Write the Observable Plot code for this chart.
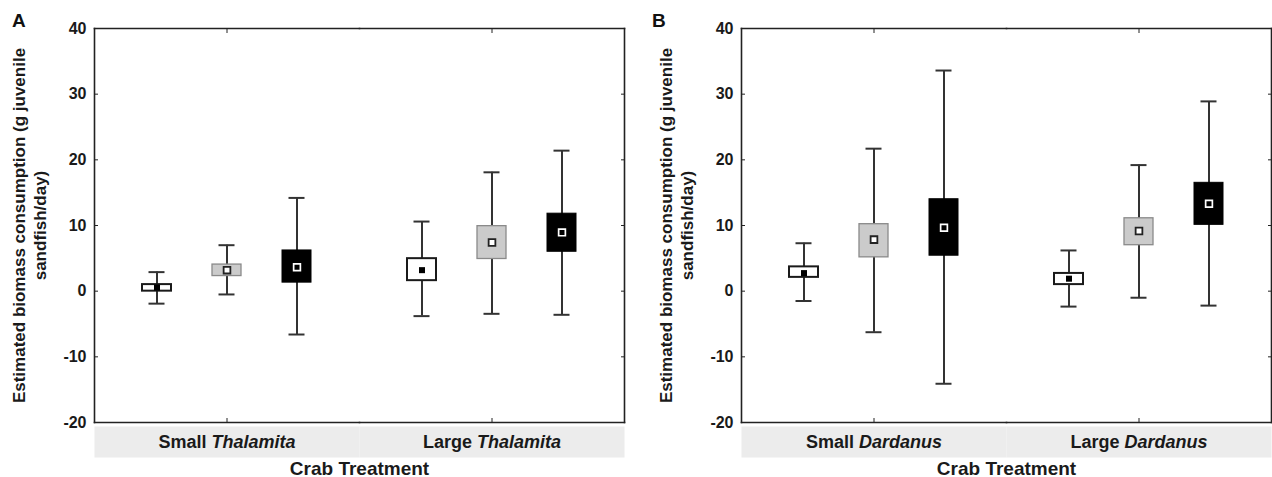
<!DOCTYPE html>
<html><head><meta charset="utf-8">
<script src="https://cdn.jsdelivr.net/npm/d3@7"></script>
<script src="https://cdn.jsdelivr.net/npm/@observablehq/plot@0.6"></script>
<style>
body{margin:0;background:#fff;}
#wrap{position:relative;width:1272px;height:477px;overflow:hidden;}
.panel{position:absolute;top:0;}
.tag{position:absolute;top:11px;font:bold 19px "Liberation Sans",Arial,sans-serif;line-height:1;color:#111;}
</style></head><body>
<div id="wrap"></div>
<script>
// ---- data ----
const seriesKeys = ["open", "grey", "solid"];
const yTicks = [-20, -10, 0, 10, 20, 30, 40];
const yLabel = "Estimated biomass consumption (g juvenile\nsandfish/day)";
const xLabel = "Crab Treatment";

const groupsA = ["Small Thalamita", "Large Thalamita"];
const meanA  = [0.55, 3.2, 3.65, 3.2, 7.4, 8.95];
const boxLoA = [0.0, 2.3, 1.3, 1.6, 4.9, 6.0];
const boxHiA = [1.0, 4.05, 6.2, 4.95, 9.9, 11.8];
const whLoA  = [-1.9, -0.5, -6.6, -3.8, -3.45, -3.6];
const whHiA  = [2.9, 7.0, 14.2, 10.6, 18.1, 21.4];

const groupsB = ["Small Dardanus", "Large Dardanus"];
const meanB  = [2.75, 7.85, 9.65, 1.9, 9.15, 13.3];
const boxLoB = [2.1, 5.15, 5.4, 1.0, 7.0, 10.1];
const boxHiB = [3.7, 10.2, 14.0, 2.7, 11.1, 16.5];
const whLoB  = [-1.5, -6.25, -14.1, -2.35, -1.0, -2.2];
const whHiB  = [7.3, 21.7, 33.6, 6.2, 19.2, 28.9];

// ---- styles ----
const boxStyle = {
  open:  {fill: "#ffffff", stroke: "#1a1a1a", strokeWidth: 2},
  grey:  {fill: "#cbcbcb", stroke: "#8a8a8a", strokeWidth: 1.3},
  solid: {fill: "#000000", stroke: "#000000", strokeWidth: 1}
};
const meanStyle = {
  open:  {fill: "#000000", stroke: "none", strokeWidth: 0, r: 3.4},
  grey:  {fill: "#ffffff", stroke: "#222222", strokeWidth: 1.8, r: 3.8},
  solid: {fill: "#000000", stroke: "#ffffff", strokeWidth: 1.7, r: 3.8}
};
const FONT = "'Liberation Sans', Arial, sans-serif";

function makePanel(groups, mean, boxLo, boxHi, whLo, whHi, ml, mr) {
  const rows = [];
  groups.forEach((g, i) => seriesKeys.forEach((s, j) => {
    const k = i * 3 + j;
    rows.push({group: g, series: s, mean: mean[k], lo: boxLo[k], hi: boxHi[k], wlo: whLo[k], whi: whHi[k]});
  }));
  const whisk = {stroke: "#333", strokeWidth: 2};
  const svg = Plot.plot({
    width: 636, height: 477,
    marginTop: 28, marginBottom: 55, marginLeft: ml, marginRight: mr,
    style: {fontFamily: FONT, fontWeight: "bold", color: "#1a1a1a", background: "transparent", overflow: "visible"},
    fx: {domain: groups, padding: 0, label: null},
    x: {domain: seriesKeys, paddingInner: 0.592, paddingOuter: 0.666, axis: null},
    y: {domain: [-20, 40], label: null},
    marks: [
      Plot.frame({fill: "#ececec", stroke: null, insetTop: 398, insetBottom: -35}),
      Plot.ruleX(rows, {fx: "group", x: "series", y1: "wlo", y2: "whi", ...whisk}),
      Plot.tickY(rows, {fx: "group", x: "series", y: "wlo", insetLeft: 6.5, insetRight: 6.5, ...whisk}),
      Plot.tickY(rows, {fx: "group", x: "series", y: "whi", insetLeft: 6.5, insetRight: 6.5, ...whisk}),
      ...seriesKeys.map(s => Plot.barY(rows.filter(d => d.series === s),
        {fx: "group", x: "series", y1: "lo", y2: "hi", ...boxStyle[s]})),
      ...seriesKeys.map(s => Plot.dot(rows.filter(d => d.series === s),
        {fx: "group", x: "series", y: "mean", symbol: "square", ...meanStyle[s]})),
      Plot.frame({anchor: "top", stroke: "#222", strokeWidth: 1.6}),
      Plot.frame({anchor: "bottom", stroke: "#222", strokeWidth: 1.6}),
      Plot.frame({anchor: "left", stroke: "#222", strokeWidth: 1.6, facetAnchor: "left"}),
      Plot.frame({anchor: "right", stroke: "#222", strokeWidth: 1.6, facetAnchor: "right"}),
      Plot.axisY({anchor: "left", ticks: yTicks, tickSize: -4, tickPadding: 12, fontSize: 16, label: null, stroke: "#222", tickFormat: d => String(d)}),
      Plot.axisY({anchor: "right", ticks: yTicks, tickSize: -4, tickFormat: () => "", label: null, stroke: "#222"}),
      Plot.axisFx({anchor: "top", tickSize: -4, tickFormat: () => "", label: null, stroke: "#222"}),
      Plot.axisFx({anchor: "bottom", tickSize: -4, tickPadding: 17, fontSize: 18, label: null, stroke: "#222"}),
      Plot.axisFx({anchor: "bottom", tickSize: 0, tickFormat: () => "", fontSize: 19, label: xLabel, labelAnchor: "center", labelOffset: 52}),
      Plot.text([yLabel], {text: d => d, frameAnchor: "left", textAnchor: "middle", rotate: -90, dx: -66, fontSize: 17, lineHeight: 1.25, facetAnchor: "left"})
    ]
  });
  // species names in italics
  d3.select(svg).selectAll("text").each(function() {
    const t = this.textContent;
    if (groups.includes(t)) {
      const sp = t.indexOf(" ");
      const sel = d3.select(this);
      sel.text(null);
      sel.append("tspan").text(t.slice(0, sp + 1));
      sel.append("tspan").attr("font-style", "italic").text(t.slice(sp + 1));
    }
  });
  return svg;
}

const wrap = document.getElementById("wrap");
const a = makePanel(groupsA, meanA, boxLoA, boxHiA, whLoA, whHiA, 93, 12);
a.classList.add("panel"); a.style.left = "0px";
const b = makePanel(groupsB, meanB, boxLoB, boxHiB, whLoB, whHiB, 104, 1);
b.classList.add("panel"); b.style.left = "636px";
wrap.appendChild(a); wrap.appendChild(b);
for (const [t, x] of [["A", 12], ["B", 652]]) {
  const d = document.createElement("div");
  d.className = "tag"; d.style.left = x + "px"; d.textContent = t;
  wrap.appendChild(d);
}
</script>
</body></html>
